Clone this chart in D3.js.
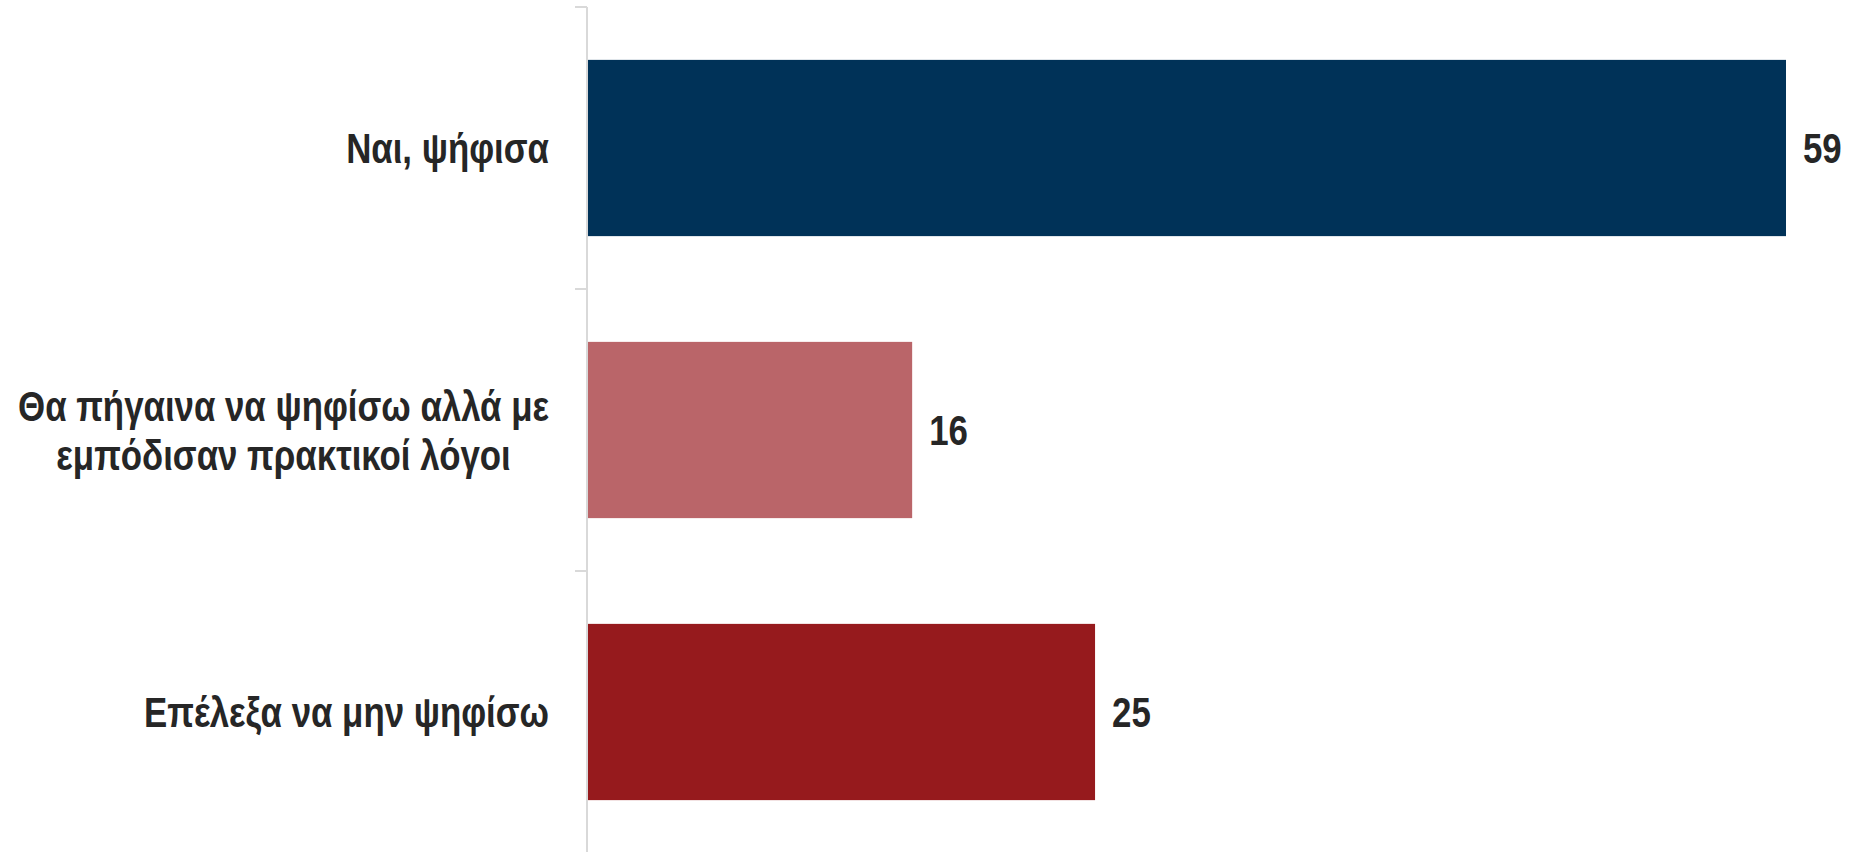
<!DOCTYPE html>
<html>
<head>
<meta charset="utf-8">
<script src="https://cdn.jsdelivr.net/npm/d3@7"></script>
<style>
  body { margin: 0; background: #fff; }
  svg text { font-family: "Liberation Sans Narrow", "Arial Narrow", "Liberation Sans", sans-serif; font-weight: bold; fill: #262626; }
</style>
</head>
<body>
<svg width="1850" height="852"></svg>
<script>
// Data
var categories = [
	["Ναι, ψήφισα"],
	["Θα πήγαινα να ψηφίσω αλλά με", "εμπόδισαν πρακτικοί λόγοι"],
	["Επέλεξα να μην ψηφίσω"]
];
var values = [59, 16, 25];
var colors = ["#003258", "#BA6569", "#961A1D"];

var AXIS_X = 587;
var TOP_Y = 7;
var BOTTOM_Y = 853;
var FONT_SIZE = 43;
// no narrow font installed, so squeeze the regular one
var NARROW = 0.81;

var svg = d3.select("svg");

var keys = categories.map((d, i) => "c" + i);

var y = d3.scaleBand()
	.domain(keys)
	.range([TOP_Y, BOTTOM_Y])
	.paddingInner(0.375)
	.paddingOuter(0.1875);

var x = d3.scaleLinear()
	.domain([0, 59])
	.range([AXIS_X, 1786]);

// category axis (ticks between bands)
var axisG = svg.append("g").attr("class", "axis");
var step = y.step();
var bounds = keys.map((k, i) => TOP_Y + i * step).concat([BOTTOM_Y]);

axisG.append("line")
	.attr("x1", AXIS_X).attr("x2", AXIS_X)
	.attr("y1", TOP_Y).attr("y2", BOTTOM_Y)
	.attr("stroke", "#D9D9D9").attr("stroke-width", 2);

axisG.selectAll("line.tick")
	.data(bounds)
	.enter().append("line")
	.attr("class", "tick")
	.attr("x1", AXIS_X - 12).attr("x2", AXIS_X)
	.attr("y1", d => d).attr("y2", d => d)
	.attr("stroke", "#D9D9D9").attr("stroke-width", 2);

// bars
svg.append("g")
	.selectAll("rect")
	.data(values)
	.enter().append("rect")
	.attr("x", x(0) + 1)
	.attr("y", (d, i) => y(keys[i]))
	.attr("width", d => x(d) - x(0) - 1)
	.attr("height", y.bandwidth())
	.attr("fill", (d, i) => colors[i]);

// value labels
svg.append("g")
	.selectAll("text")
	.data(values)
	.enter().append("text")
	.attr("transform", (d, i) => `translate(${x(d) + 17},${y(keys[i]) + y.bandwidth() / 2}) scale(${NARROW},1)`)
	.attr("dy", "0.35em")
	.style("font-size", FONT_SIZE + "px")
	.text(d => d);

// category labels: block right aligned to the axis, lines centred in the block
var labels = svg.append("g")
	.selectAll("text")
	.data(categories)
	.enter().append("text")
	.attr("text-anchor", "middle")
	.style("font-size", FONT_SIZE + "px")
	.attr("transform", (d, i) => `translate(${AXIS_X - 38},${y(keys[i]) + y.bandwidth() / 2}) scale(${NARROW},1)`);

var LINE_H = 49;
labels.selectAll("tspan")
	.data(d => d.map((t, j) => ({t: t, j: j, n: d.length})))
	.enter().append("tspan")
	.attr("dy", d => d.j == 0 ? (0.35 * FONT_SIZE - (d.n - 1) * LINE_H / 2) + "px" : LINE_H + "px")
	.text(d => d.t);

labels.each(function() {
	var spans = d3.select(this).selectAll("tspan");
	var w = d3.max(spans.nodes(), n => n.getComputedTextLength());
	spans.attr("x", -w / 2);
});
</script>
</body>
</html>
